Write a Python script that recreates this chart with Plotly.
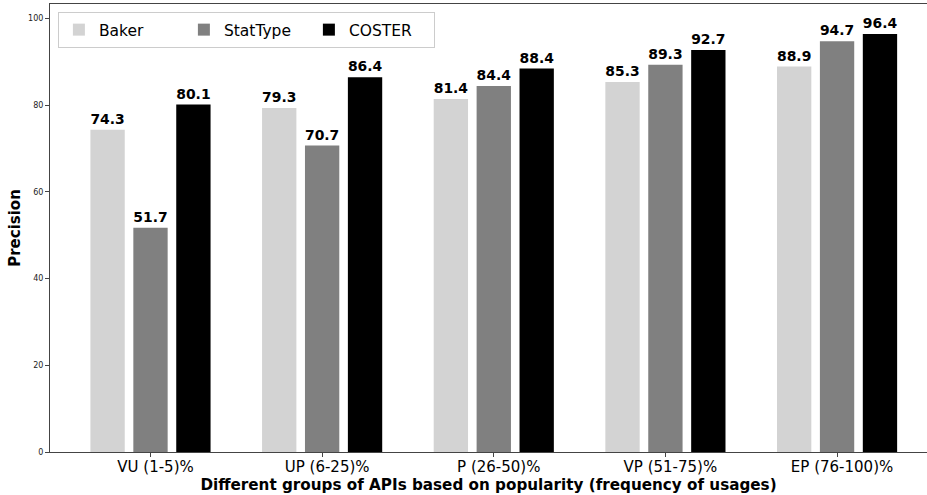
import plotly.graph_objects as go

categories = ["VU (1-5)%", "UP (6-25)%", "P (26-50)%", "VP (51-75)%", "EP (76-100)%"]
baker = [74.3, 79.3, 81.4, 85.3, 88.9]
stattype = [51.7, 70.7, 84.4, 89.3, 94.7]
coster = [80.1, 86.4, 88.4, 92.7, 96.4]

series = [("Baker", baker, "#d3d3d3"), ("StatType", stattype, "#808080"), ("COSTER", coster, "#000000")]

FONT = "DejaVu Sans"
fig = go.Figure()
for name, vals, col in series:
    fig.add_trace(go.Bar(
        name=name, x=categories, y=vals, marker=dict(color=col, line=dict(width=0)),
        text=[f"{v:.1f}" for v in vals], textposition="outside",
        textfont=dict(family=FONT, size=14.6, color="black", weight="bold"),
        cliponaxis=False,
    ))

fig.update_layout(
    width=927, height=495,
    margin=dict(l=50, r=0, t=4, b=43, autoexpand=False),
    paper_bgcolor="white", plot_bgcolor="white",
    barmode="group", bargap=0.25, bargroupgap=0.2,
    font=dict(family=FONT, color="black"),
    showlegend=True,
    legend=dict(
        orientation="h", x=0.009, y=0.982, xanchor="left", yanchor="top",
        font=dict(family=FONT, size=15.5, color="black"),
        bordercolor="#cccccc", borderwidth=1, bgcolor="rgba(255,255,255,0.8)",
        entrywidth=80, itemwidth=30,
    ),
    xaxis=dict(
        type="category", range=[-0.5855, 4.524],
        showline=True, linecolor="#444", linewidth=1, mirror=True,
        ticks="outside", ticklen=4, tickcolor="#444",
        tickfont=dict(family=FONT, size=15, color="black"),
        ticklabelshift=5, ticklabelstandoff=-3,
        showgrid=False, zeroline=False,
        title=dict(text="<b>Different groups of APIs based on popularity (frequency of usages)</b>",
                   font=dict(family=FONT, size=15.2, color="black"), standoff=0),
    ),
    yaxis=dict(
        range=[0, 103.3], tickvals=[0, 20, 40, 60, 80, 100],
        showline=True, linecolor="#444", linewidth=1,
        ticks="outside", ticklen=4, tickcolor="#444",
        tickfont=dict(family=FONT, size=8, color="#222"),
        showgrid=False, zeroline=False,
        title=dict(text="<b>Precision</b>", font=dict(family=FONT, size=15, color="black"), standoff=3),
    ),
)

fig.write_html("out.html", config={"displayModeBar": False},
               post_script="document.body.style.margin='0';")
